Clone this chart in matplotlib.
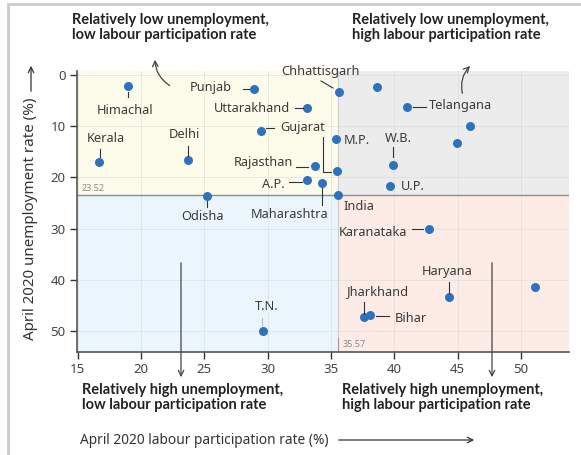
import matplotlib.pyplot as plt
from matplotlib.patches import Rectangle
from matplotlib.lines import Line2D

plt.rcParams['font.family'] = ['Noto Sans', 'DejaVu Sans']

# labour participation rate (%) and unemployment rate (%), April 2020
states = ['Himachal', 'Kerala', 'Delhi', 'Punjab', 'Uttarakhand', 'Gujarat',
          'Chhattisgarh', 'M.P.', '', 'Rajasthan', 'A.P.', 'Maharashtra',
          'India', 'Odisha', '', 'Telangana', '', '', 'W.B.', 'U.P.',
          'Karanataka', 'Haryana', '', 'Jharkhand', 'Bihar', 'T.N.']
participation = [19.0, 16.7, 23.7, 28.9, 33.1, 29.5,
                 35.6, 35.4, 35.45, 33.7, 33.1, 34.3,
                 35.57, 25.2, 38.65, 41.0, 46.0, 44.9, 39.9, 39.65,
                 42.75, 44.3, 51.1, 37.6, 38.1, 29.6]
unemployment = [2.1, 17.0, 16.6, 2.8, 6.5, 11.0,
                3.4, 12.4, 18.7, 17.8, 20.5, 21.0,
                23.52, 23.7, 2.3, 6.2, 10.0, 13.3, 17.5, 21.6,
                30.0, 43.4, 41.4, 47.2, 46.8, 50.0]
avg_part = 35.57
avg_unemp = 23.52

# label centre in pixels (from top-left), leader line pixels
label_pos = {
    'Himachal': (125, 111), 'Kerala': (106, 139), 'Delhi': (184, 134),
    'Punjab': (211, 88), 'Uttarakhand': (252, 108), 'Gujarat': (303, 127),
    'Chhattisgarh': (321, 71), 'M.P.': (357, 140), 'Rajasthan': (263, 162),
    'A.P.': (273, 184), 'Maharashtra': (290, 215), 'India': (359, 207),
    'Odisha': (202, 216), 'Telangana': (460, 106), 'W.B.': (398, 139),
    'U.P.': (413, 186), 'Karanataka': (373, 233), 'Haryana': (447, 271),
    'Jharkhand': (378, 292), 'Bihar': (411, 318), 'T.N.': (267, 306),
}
leaders = [
    [(128, 92), (128, 97)], [(100, 149), (100, 157)], [(188, 146), (188, 156)],
    [(243, 89), (249, 89)], [(295, 108), (303, 108)], [(266, 128), (274, 128)],
    [(323, 137), (323, 172), (331, 172)], [(321, 81), (333, 88)],
    [(296, 167), (308, 167)], [(289, 182), (302, 182)], [(322, 188), (322, 205)],
    [(207, 201), (207, 207)], [(413, 107), (426, 107)], [(393, 147), (393, 157)],
    [(412, 229), (423, 229)], [(449, 282), (449, 293)], [(364, 302), (364, 314)],
    [(376, 316), (389, 316)],
]

W, H = 581, 455


def fp(x, y):
    return (x / W, 1 - y / H)


fig = plt.figure(figsize=(5.81, 4.55), dpi=100)
ax = fig.add_axes([76.7 / W, 1 - 352 / H, (569.3 - 76.7) / W, (352 - 70.7) / H])
xmin, xmax = 14.93, 53.8
ymin, ymax = -0.85, 54.1
ax.set_xlim(xmin, xmax)
ax.set_ylim(ymax, ymin)

# quadrant backgrounds
ax.add_patch(Rectangle((xmin, ymin), avg_part - xmin, avg_unemp - ymin, color='#fdfbea', zorder=0))
ax.add_patch(Rectangle((avg_part, ymin), xmax - avg_part, avg_unemp - ymin, color='#ececec', zorder=0))
ax.add_patch(Rectangle((xmin, avg_unemp), avg_part - xmin, ymax - avg_unemp, color='#eaf5fd', zorder=0))
ax.add_patch(Rectangle((avg_part, avg_unemp), xmax - avg_part, ymax - avg_unemp, color='#fdebe5', zorder=0))

ax.grid(True, color='#d8d8d8', lw=0.6, alpha=0.6, zorder=0.5)
ax.set_axisbelow(True)
ax.axhline(avg_unemp, color='#8c8c8c', lw=1, zorder=1)
ax.axvline(avg_part, color='#cfcfcf', lw=0.8, zorder=1)
ax.text(15.3, avg_unemp - 0.5, '23.52', fontsize=6.5, color='#888888', va='bottom')
ax.text(avg_part + 0.35, 52.6, '35.57', fontsize=6.5, color='#888888', va='center')
ax.plot([avg_part, avg_part], [51.3, 53.9], color='#999999', lw=0.8, zorder=1)

ax.scatter(participation, unemployment, s=42, color='#2e72bd', zorder=3, linewidths=0)

for name, (px, py) in label_pos.items():
    fig.text(px / W, 1 - py / H, name, ha='center', va='center', fontsize=9.2, color='#3a3a3a')
for pts in leaders:
    xs = [p[0] / W for p in pts]
    ys = [1 - p[1] / H for p in pts]
    fig.add_artist(Line2D(xs, ys, color='#333333', lw=0.8))
fig.add_artist(Line2D([262 / W, 262 / W], [1 - 318 / H, 1 - 325 / H], color='#bbbbbb', lw=0.8))

ax.set_xticks([15, 20, 25, 30, 35, 40, 45, 50])
ax.set_yticks([0, 10, 20, 30, 40, 50])
ax.tick_params(length=5, width=1, color='#333333', labelsize=9.5, labelcolor='#444444', pad=3)
for s in ['top', 'right']:
    ax.spines[s].set_visible(False)
for s in ['left', 'bottom']:
    ax.spines[s].set_color('#555555')
    ax.spines[s].set_linewidth(1.2)

# quadrant titles
tkw = dict(fontsize=10.5, fontweight='bold', color='#222222', va='top', ha='left',
           linespacing=1.1, family=['Lato', 'DejaVu Sans'])
fig.text(*fp(72, 13), 'Relatively low unemployment,\nlow labour participation rate', **tkw)
fig.text(*fp(352, 13), 'Relatively low unemployment,\nhigh labour participation rate', **tkw)
fig.text(*fp(82, 383), 'Relatively high unemployment,\nlow labour participation rate', **tkw)
fig.text(*fp(342, 383), 'Relatively high unemployment,\nhigh labour participation rate', **tkw)

# arrows
akw = dict(xycoords='figure fraction', textcoords='figure fraction')
ax.annotate('', xy=fp(155, 57), xytext=fp(172, 87), annotation_clip=False,
            arrowprops=dict(arrowstyle='->', color='#444444', lw=0.9,
                            connectionstyle='arc3,rad=-0.3'), **akw)
ax.annotate('', xy=fp(472, 64), xytext=fp(463, 96), annotation_clip=False,
            arrowprops=dict(arrowstyle='->', color='#444444', lw=0.9,
                            connectionstyle='arc3,rad=-0.3'), **akw)
ax.annotate('', xy=fp(181, 380), xytext=fp(181, 260), annotation_clip=False,
            arrowprops=dict(arrowstyle='->', color='#444444', lw=0.9), **akw)
ax.annotate('', xy=fp(492, 380), xytext=fp(492, 260), annotation_clip=False,
            arrowprops=dict(arrowstyle='->', color='#444444', lw=0.9), **akw)

# axis titles
fig.text(*fp(80, 440), 'April 2020 labour participation rate (%)', fontsize=9.9,
         color='#333333', va='center', ha='left')
ax.annotate('', xy=fp(477, 440), xytext=fp(336, 440), annotation_clip=False,
            arrowprops=dict(arrowstyle='->', color='#333333', lw=0.9), **akw)
fig.text(*fp(31, 340), 'April 2020 unemployment rate (%)', fontsize=10.9, rotation=90,
         color='#333333', va='bottom', ha='center')
ax.annotate('', xy=fp(31, 63), xytext=fp(31, 94), annotation_clip=False,
            arrowprops=dict(arrowstyle='->', color='#333333', lw=0.9), **akw)

# frame
fig.add_artist(Line2D([8 / W, 8 / W], [0, 1 - 4 / H], color='#cccccc', lw=2))
fig.add_artist(Line2D([8 / W, 1], [1 - 4 / H, 1 - 4 / H], color='#cccccc', lw=2))

fig.savefig('out.png', dpi=100)
